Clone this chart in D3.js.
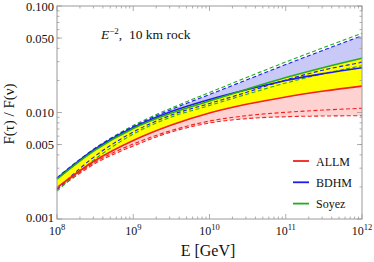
<!DOCTYPE html>
<html><head><meta charset="utf-8">
<script src="https://cdn.jsdelivr.net/npm/d3@7"></script>
<style>
body{margin:0;background:#fff}
svg{display:block}
text{font-family:"Liberation Serif","Times New Roman",serif;fill:#111}
</style>
</head><body>
<svg id="chart" width="374" height="262"></svg>
<script>
// ---- data ----
const energies = [1e8, 10**8.5, 1e9, 10**9.5, 1e10, 10**10.5, 1e11, 10**11.5, 1e12];
const allmCentral = [0.00197, 0.00354, 0.00546, 0.00763, 0.00989, 0.0120, 0.0140, 0.0159, 0.0177];
const allmDashA   = [0.00193, 0.00343, 0.00506, 0.00678, 0.00832, 0.00937, 0.01004, 0.01055, 0.01095];
const allmDashB   = [0.00189, 0.00332, 0.00485, 0.00656, 0.00797, 0.00878, 0.00913, 0.00927, 0.00933];
const bdhmCentral = [0.00240, 0.00454, 0.00723, 0.01022, 0.01325, 0.01644, 0.0200, 0.0232, 0.0263];
const bdhmDashUp  = [0.00243, 0.00459, 0.00739, 0.01067, 0.01476, 0.0204, 0.0282, 0.0386, 0.0526];
const bdhmDashLo  = [0.00191, 0.00390, 0.00656, 0.00947, 0.01215, 0.01557, 0.0202, 0.0251, 0.0296];
const soyezCentral= [0.00237, 0.00444, 0.00708, 0.00989, 0.01282, 0.01663, 0.0213, 0.0265, 0.0323];
const soyezDashUp = [0.00245, 0.00464, 0.00755, 0.01102, 0.01541, 0.0215, 0.0298, 0.0408, 0.0554];
const soyezDashLo = [0.00183, 0.00366, 0.00628, 0.00907, 0.01163, 0.01492, 0.0189, 0.0232, 0.0275];

const xMajor = [1e8, 1e9, 1e10, 1e11, 1e12];
const xExp = ["8", "9", "10", "11", "12"];
const yMajor = [0.001, 0.005, 0.01, 0.05, 0.1];
const yLabels = ["0.001", "0.005", "0.010", "0.050", "0.100"];
const legendNames = ["ALLM", "BDHM", "Soyez"];
const colors = {ALLM: "#f42020", BDHM: "#1c1cf0", Soyez: "#22ac22"};

// ---- layout ----
const L = 57, R = 362, T = 6, B = 219;
const svg = d3.select("#chart");
const x = d3.scaleLog().domain([1e8, 1e12]).range([L, R]);
const y = d3.scaleLog().domain([0.001, 0.1]).range([B, T]);

const rows = energies.map((e, i) => ({
  e,
  rc: allmCentral[i], ra: allmDashA[i], rb: allmDashB[i],
  bc: bdhmCentral[i], bu: bdhmDashUp[i], bl: bdhmDashLo[i],
  gc: soyezCentral[i], gu: soyezDashUp[i], gl: soyezDashLo[i]
}));

const curve = d3.curveCatmullRom;
const area = (top, bot) => d3.area().x(d => x(d.e)).y0(bot).y1(top).curve(curve);

const g = svg.append("g");
// fills
g.append("path").attr("fill", "#c9c9f7")
  .attr("d", area(d => y(d.bu), d => y(Math.max(d.bc, d.gc)))(rows));
g.append("path").attr("fill", "#ffff00")
  .attr("d", area(d => y(Math.max(d.bc, d.gc)), d => y(d.rc))(rows));
g.append("path").attr("fill", "#ffd2d2")
  .attr("d", area(d => y(d.rc), d => y(Math.min(d.rb, d.ra)))(rows));

const line = key => d3.line().x(d => x(d.e)).y(d => y(d[key])).curve(curve);
const dashed = [["ra", "ALLM"], ["rb", "ALLM"], ["bl", "BDHM"], ["gl", "Soyez"], ["gu", "Soyez"], ["bu", "BDHM"]];
dashed.forEach(([k, c]) => g.append("path").attr("d", line(k)(rows)).attr("fill", "none")
  .attr("stroke", colors[c]).attr("stroke-width", 1.1).attr("stroke-dasharray", "4,2.5"));
[["rc", "ALLM"], ["bc", "BDHM"], ["gc", "Soyez"]].forEach(([k, c]) =>
  g.append("path").attr("d", line(k)(rows)).attr("fill", "none")
    .attr("stroke", colors[c]).attr("stroke-width", 1.6));

// frame
const frameColor = "#9a9a9a";
svg.append("rect").attr("x", L).attr("y", T).attr("width", R - L).attr("height", B - T)
  .attr("fill", "none").attr("stroke", frameColor).attr("stroke-width", 1);

// ticks
const xMinor = [];
[1e8, 1e9, 1e10, 1e11].forEach(d => { for (let k = 2; k <= 9; k++) xMinor.push(d * k); });
const yMinor = [];
[0.001, 0.01].forEach(d => { for (let k = 2; k <= 9; k++) yMinor.push(d * k); });
const tk = svg.append("g").attr("stroke", frameColor).attr("stroke-width", 0.8);
xMajor.forEach(v => {
  tk.append("line").attr("x1", x(v)).attr("x2", x(v)).attr("y1", B).attr("y2", B - 5);
  tk.append("line").attr("x1", x(v)).attr("x2", x(v)).attr("y1", T).attr("y2", T + 5);
});
xMinor.forEach(v => {
  tk.append("line").attr("x1", x(v)).attr("x2", x(v)).attr("y1", B).attr("y2", B - 2.5);
  tk.append("line").attr("x1", x(v)).attr("x2", x(v)).attr("y1", T).attr("y2", T + 2.5);
});
yMajor.forEach(v => {
  tk.append("line").attr("y1", y(v)).attr("y2", y(v)).attr("x1", L).attr("x2", L + 5);
  tk.append("line").attr("y1", y(v)).attr("y2", y(v)).attr("x1", R).attr("x2", R - 5);
});
yMinor.forEach(v => {
  tk.append("line").attr("y1", y(v)).attr("y2", y(v)).attr("x1", L).attr("x2", L + 2.5);
  tk.append("line").attr("y1", y(v)).attr("y2", y(v)).attr("x1", R).attr("x2", R - 2.5);
});

// tick labels
yMajor.forEach((v, i) => svg.append("text").attr("x", L - 3).attr("y", Math.min(y(v) + 4.5, 221.5))
  .attr("text-anchor", "end").attr("font-size", 12.5).text(yLabels[i]));
xMajor.forEach((v, i) => {
  const t = svg.append("text").attr("x", x(v)).attr("y", 235).attr("text-anchor", "middle").attr("font-size", 12);
  t.append("tspan").text("10");
  t.append("tspan").attr("dy", -5).attr("font-size", 8.5).text(xExp[i]);
});

// axis titles
svg.append("text").attr("x", 208).attr("y", 256).attr("text-anchor", "middle")
  .attr("font-size", 16).text("E [GeV]");
svg.append("text").attr("transform", "translate(14,114) rotate(-90)").attr("text-anchor", "middle")
  .attr("font-size", 15).text("F(τ) / F(ν)");

// annotation
const ann = svg.append("text").attr("x", 101).attr("y", 39).attr("font-size", 13.5)
  .attr("xml:space", "preserve").style("white-space", "pre");
ann.append("tspan").attr("font-style", "italic").text("E");
ann.append("tspan").attr("dy", -5.5).attr("font-size", 9).text("−2");
ann.append("tspan").attr("dy", 5.5).text(",  10 km rock");

// legend
legendNames.forEach((n, i) => {
  const yy = 161 + i * 21.3;
  svg.append("line").attr("x1", 293).attr("x2", 309).attr("y1", yy).attr("y2", yy)
    .attr("stroke", colors[n]).attr("stroke-width", 1.8);
  svg.append("text").attr("x", 316).attr("y", yy + 4.5).attr("font-size", 12).text(n);
});
</script>
</body></html>
